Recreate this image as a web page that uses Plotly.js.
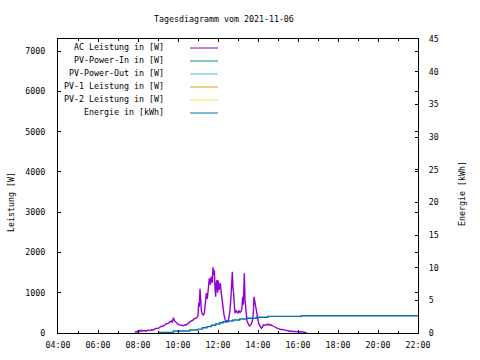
<!DOCTYPE html>
<html>
<head>
<meta charset="utf-8">
<script src="https://cdn.plot.ly/plotly-3.0.1.min.js"></script>
<style>html,body{margin:0;padding:0;background:#fff;}#chart{width:480px;height:360px;}</style>
</head>
<body>
<div id="chart"></div>
<script>
var DAY = '2021-11-06 ';
var chartTitle = 'Tagesdiagramm vom 2021-11-06';
var yTitle = 'Leistung [W]';
var y2Title = 'Energie [kWh]';

var seriesNames = ['AC Leistung in [W]', 'PV-Power-In in [W]', 'PV-Power-Out in [W]', 'PV-1 Leistung in [W]', 'PV-2 Leistung in [W]', 'Energie in [kWh]'];
var seriesColors = ['#9400d3', '#009e73', '#56b4e9', '#e69f00', '#f0e442', '#0072b2'];

var acTimes = ['07:51','07:54','07:57','08:00','08:03','08:06','08:09','08:12','08:15','08:20','08:25','08:30','08:35','08:40','08:45','08:50','08:55','09:00','09:05','09:10','09:15','09:20','09:25','09:30','09:35','09:40','09:43','09:46','09:50','09:55','10:00','10:05','10:10','10:15','10:20','10:25','10:30','10:35','10:40','10:45','10:50','10:55','10:58','11:00','11:02','11:04','11:06','11:08','11:10','11:13','11:16','11:19','11:22','11:25','11:28','11:31','11:34','11:37','11:40','11:43','11:45','11:47','11:49','11:51','11:53','11:55','11:57','11:59','12:01','12:03','12:05','12:07','12:09','12:12','12:15','12:18','12:21','12:24','12:27','12:30','12:33','12:36','12:39','12:41','12:43','12:45','12:47','12:49','12:51','12:54','12:57','13:00','13:03','13:06','13:09','13:12','13:14','13:16','13:18','13:19','13:21','13:24','13:27','13:30','13:34','13:38','13:41','13:44','13:46','13:48','13:50','13:52','13:54','13:56','13:58','14:01','14:04','14:07','14:10','14:13','14:16','14:20','14:24','14:28','14:32','14:36','14:40','14:44','14:48','14:52','14:56','15:00','15:05','15:10','15:15','15:20','15:25','15:30','15:35','15:40','15:45','15:50','15:55','16:00','16:05','16:10','16:15','16:20','16:26'];
var acValues = [10,40,20,50,30,60,40,70,50,60,45,70,60,80,75,100,120,110,150,170,165,200,230,240,275,300,260,380,300,250,220,200,190,180,205,200,240,280,300,320,360,370,400,420,750,650,1100,700,560,470,450,490,700,990,850,1100,1360,1200,1400,1250,1630,1440,1560,1100,900,1250,1315,1000,1300,1070,1200,1235,1050,820,560,450,350,280,300,280,400,570,900,1190,1520,1100,985,700,490,560,530,490,560,510,530,620,900,700,1200,1480,820,405,300,240,175,200,240,350,490,900,800,695,560,490,350,280,200,155,115,140,200,190,210,200,220,195,200,180,160,150,120,110,100,80,90,70,60,65,40,50,35,40,30,35,25,30,20,25,10];

var energyTimes = ['09:00','09:46','10:36','11:00','11:13','11:27','11:40','11:53','12:05','12:15','12:25','12:45','13:05','13:25','13:55','14:30','16:10','22:00'];
var energyValues = [0.1,0.3,0.45,0.6,0.8,0.97,1.18,1.38,1.58,1.73,1.84,2.0,2.14,2.25,2.4,2.55,2.65,2.65];

var xRange = ['04:00','22:00'];
var yRange = [0, 7300];
var y2Range = [0, 45];

function ts(arr){ return arr.map(function(t){ return DAY + t; }); }

var FONT = 'DejaVu Sans Mono, monospace';
var FS = 8.3;

var traces = [
  {x: ts(acTimes), y: acValues, type: 'scatter', mode: 'lines', name: seriesNames[0], line: {color: seriesColors[0], width: 1.4}, yaxis: 'y', showlegend: false},
  {x: [], y: [], type: 'scatter', mode: 'lines', name: seriesNames[1], line: {color: seriesColors[1], width: 1}, showlegend: false},
  {x: [], y: [], type: 'scatter', mode: 'lines', name: seriesNames[2], line: {color: seriesColors[2], width: 1}, showlegend: false},
  {x: [], y: [], type: 'scatter', mode: 'lines', name: seriesNames[3], line: {color: seriesColors[3], width: 1}, showlegend: false},
  {x: [], y: [], type: 'scatter', mode: 'lines', name: seriesNames[4], line: {color: seriesColors[4], width: 1}, showlegend: false},
  {x: ts(energyTimes), y: energyValues, type: 'scatter', mode: 'lines', name: seriesNames[5], line: {color: seriesColors[5], width: 1.4, shape: 'hv'}, yaxis: 'y2', showlegend: false}
];

// plot area in pixels: left 58, right 418, top 39, bottom 333
var L = 58, R = 418, T = 39, B = 333;
function px(x){ return (x - L) / (R - L); }
function py(y){ return (B - y) / (B - T); }

var annotations = [
  {text: chartTitle, xref: 'paper', yref: 'paper', x: px(223.5), y: py(18.5), showarrow: false, xanchor: 'center', yanchor: 'middle', font: {family: FONT, size: FS, color: '#000'}},
  {text: yTitle, xref: 'paper', yref: 'paper', x: px(11), y: py(202), showarrow: false, textangle: -90, xanchor: 'center', yanchor: 'middle', font: {family: FONT, size: FS, color: '#000'}},
  {text: y2Title, xref: 'paper', yref: 'paper', x: px(462), y: py(194), showarrow: false, textangle: -90, xanchor: 'center', yanchor: 'middle', font: {family: FONT, size: FS, color: '#000'}}
];
var shapes = [];
var legTop = 47, legStep = 13;
for (var i = 0; i < seriesNames.length; i++) {
  var yy = legTop + i * legStep;
  annotations.push({text: seriesNames[i], xref: 'paper', yref: 'paper', x: px(166), y: py(yy), showarrow: false, xanchor: 'right', yanchor: 'middle', font: {family: FONT, size: FS, color: '#000'}});
  shapes.push({type: 'line', xref: 'paper', yref: 'paper', x0: px(190), x1: px(218), y0: py(yy + 1), y1: py(yy + 1), line: {color: seriesColors[i], width: 1}});
}

var layout = {
  width: 480, height: 360,
  margin: {l: L, r: 480 - R, t: T, b: 360 - B, pad: 0},
  paper_bgcolor: '#fff', plot_bgcolor: '#fff',
  font: {family: FONT, size: FS, color: '#000'},
  showlegend: false,
  xaxis: {
    type: 'date', range: ts(xRange), tick0: DAY + '04:00', dtick: 7200000, tickformat: '%H:%M',
    ticks: 'inside', ticklen: 3, tickcolor: '#000', showline: true, linecolor: '#000', linewidth: 1, mirror: 'ticks',
    showgrid: false, zeroline: false, ticklabelstandoff: 4,
    minor: {dtick: 3600000, tick0: DAY + '04:00', ticks: 'inside', ticklen: 2, tickcolor: '#000', showgrid: false},
    tickfont: {family: FONT, size: FS, color: '#000'}
  },
  yaxis: {
    range: yRange, dtick: 1000, tick0: 0, ticks: 'inside', ticklen: 3, tickcolor: '#000',
    showline: true, linecolor: '#000', linewidth: 1, mirror: 'ticks', showgrid: false, zeroline: false,
    ticklabelstandoff: 10, tickfont: {family: FONT, size: FS, color: '#000'}
  },
  yaxis2: {
    range: y2Range, dtick: 5, tick0: 0, overlaying: 'y', side: 'right', ticks: 'inside', ticklen: 3, tickcolor: '#000',
    showline: true, linecolor: '#000', linewidth: 1, showgrid: false, zeroline: false,
    ticklabelstandoff: 8, tickfont: {family: FONT, size: FS, color: '#000'}
  },
  annotations: annotations,
  shapes: shapes
};

Plotly.newPlot('chart', traces, layout, {staticPlot: true, displayModeBar: false});
</script>
</body>
</html>
